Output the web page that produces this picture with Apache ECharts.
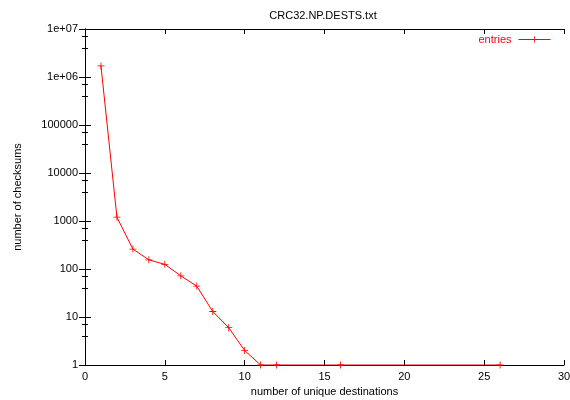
<!DOCTYPE html>
<html>
<head>
<meta charset="utf-8">
<script src="https://cdn.jsdelivr.net/npm/echarts@6/dist/echarts.min.js"></script>
<style>html,body{margin:0;padding:0;background:#fff}#c{width:570px;height:400px}</style>
</head>
<body>
<div id="c"></div>
<script>
var xValues = [1, 2, 3, 4, 5, 6, 7, 8, 9, 10, 11, 12, 16, 26];
var yValues = [1700000, 1200, 260, 155, 125, 72, 44, 13, 6, 2, 1, 1, 1, 1];
var yTickValues = [1, 10, 100, 1000, 10000, 100000, 1000000, 10000000];
var yTickLabels = ['1', '10', '100', '1000', '10000', '100000', '1e+06', '1e+07'];
var xTickLabels = ['0', '5', '10', '15', '20', '25', '30'];

var FONT = 'Liberation Sans, Arial, sans-serif';
var plus = 'path://M-1,-0.12L1,-0.12L1,0.12L-1,0.12Z M-0.12,-1L0.12,-1L0.12,1L-0.12,1Z';
var axisLine = {show: true, lineStyle: {color: '#000', width: 1}};
var chart = echarts.init(document.getElementById('c'), null, {renderer: 'canvas'});
var data = xValues.map(function (x, i) { return [x, yValues[i]]; });

chart.setOption({
  animation: false,
  backgroundColor: '#fff',
  title: {
    text: 'CRC32.NP.DESTS.txt', left: 318, top: 5, textAlign: 'center',
    textStyle: {fontFamily: FONT, fontSize: 11, fontWeight: 'normal', color: '#000'}
  },
  legend: {
    right: 14, top: 29, align: 'right', itemWidth: 32, itemHeight: 8, itemGap: 6,
    textStyle: {fontFamily: FONT, fontSize: 11, color: '#ff0000', padding: [0, 2, 0, 0]},
    lineStyle: {width: 1},
    data: ['entries']
  },
  grid: {left: 85, right: 6, top: 29, bottom: 35, containLabel: false, outerBoundsMode: 'none'},
  xAxis: [{
    type: 'value', min: 0, max: 30, interval: 5, position: 'bottom',
    name: 'number of unique destinations', nameLocation: 'middle', nameGap: 21,
    nameTextStyle: {fontFamily: FONT, fontSize: 11, color: '#000'},
    axisLine: axisLine,
    axisTick: {show: true, inside: true, length: 5, lineStyle: {color: '#000'}},
    axisLabel: {fontFamily: FONT, fontSize: 11, color: '#000', margin: 6,
      formatter: function (v) { return xTickLabels[Math.round(v / 5)]; }},
    splitLine: {show: false}
  }, {
    type: 'value', min: 0, max: 30, interval: 5, position: 'top',
    axisLine: axisLine,
    axisTick: {show: true, inside: true, length: 5, lineStyle: {color: '#000'}},
    axisLabel: {show: false}, splitLine: {show: false}
  }],
  yAxis: [{
    type: 'log', logBase: 10, min: 1, max: 10000000, position: 'left',
    name: 'number of checksums', nameLocation: 'middle', nameGap: 62, nameRotate: 90,
    nameTextStyle: {fontFamily: FONT, fontSize: 11, color: '#000'},
    axisLine: axisLine,
    axisTick: {show: true, inside: true, length: 6, lineStyle: {color: '#000'}},
    minorTick: {show: true, splitNumber: 3, length: 3, lineStyle: {color: '#000'}},
    axisLabel: {fontFamily: FONT, fontSize: 11, color: '#000', margin: 7,
      formatter: function (v) {
        var i = yTickValues.indexOf(Math.round(v));
        return i >= 0 ? yTickLabels[i] : '';
      }},
    splitLine: {show: false}, minorSplitLine: {show: false}
  }, {
    type: 'log', logBase: 10, min: 1, max: 10000000, position: 'right',
    axisLine: axisLine,
    axisTick: {show: true, inside: true, length: 6, lineStyle: {color: '#000'}},
    minorTick: {show: true, splitNumber: 3, length: 3, lineStyle: {color: '#000'}},
    axisLabel: {show: false}, splitLine: {show: false}, minorSplitLine: {show: false}
  }],
  series: [{
    name: 'entries', type: 'line', xAxisIndex: 0, yAxisIndex: 0,
    data: data, symbol: plus, symbolSize: 7, showSymbol: true,
    lineStyle: {color: '#ff0000', width: 1},
    itemStyle: {color: '#ff0000'},
    clip: false
  }]
});
</script>
</body>
</html>
